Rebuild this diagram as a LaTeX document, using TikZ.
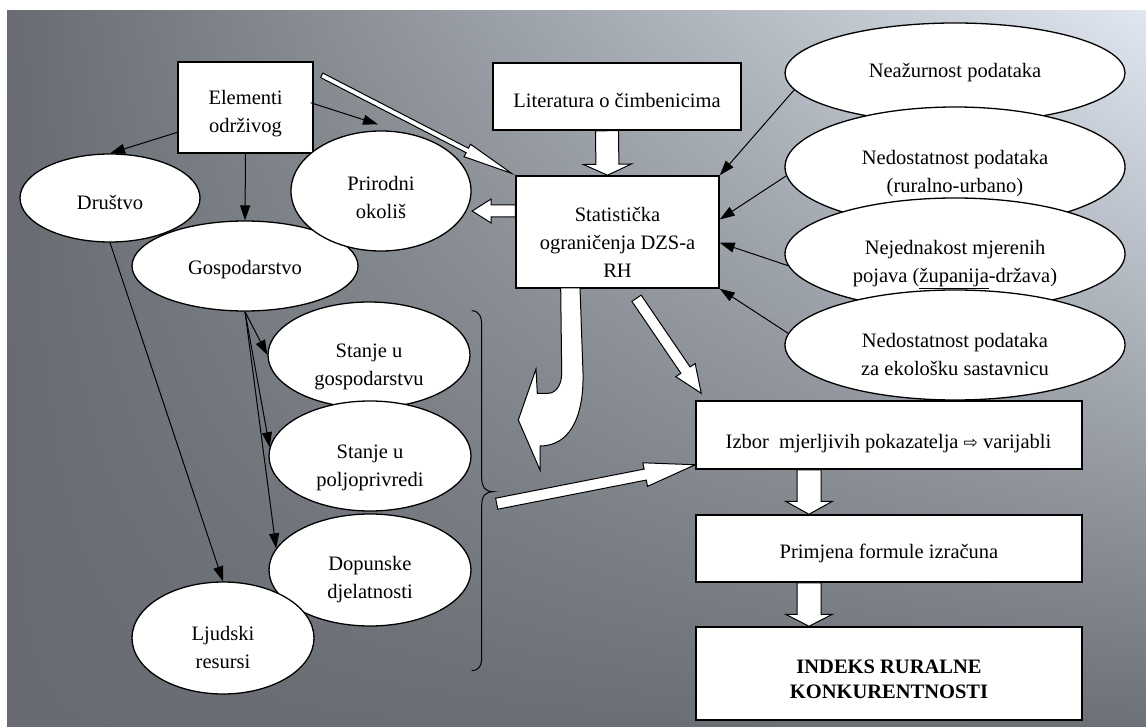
\documentclass[tikz,border=0pt]{standalone}
\usepackage{fontspec}
\setmainfont{Liberation Serif}
\newfontfamily\symfont{DejaVu Sans}
\usetikzlibrary{shapes.geometric,calc,arrows.meta,shadings}
\definecolor{bgdark}{RGB}{104,108,114}
\definecolor{bglight}{RGB}{224,231,240}
\definecolor{bgdarkr}{RGB}{108,112,119}
\newcommand\hollowarr[5]{%
  \coordinate (hA) at #1; \coordinate (hB) at #2;
  \coordinate (hC) at ($(hB)!#5!(hA)$);
  \draw[hollow] ($(hA)!#3!90:(hB)$) -- ($(hC)!#3!90:(hB)$) -- ($(hC)!#4!90:(hB)$) -- (hB)
    -- ($(hC)!#4!-90:(hB)$) -- ($(hC)!#3!-90:(hB)$) -- ($(hA)!#3!-90:(hB)$) -- cycle;}
\begin{document}
\begin{tikzpicture}[x=1pt,y=-1pt,
  box/.style={draw=black,line width=1.5pt,fill=white,inner sep=0pt},
  ell/.style={ellipse,draw=black,line width=1.3pt,fill=white,inner sep=0pt},
  txt/.style={align=center,inner sep=0pt,font=\fontsize{20.5}{28}\selectfont},
  conn/.style={draw=black,line width=1pt,-{Triangle[length=15pt,width=10pt]}},
  hollow/.style={draw=black,line width=1pt,fill=white,line join=miter}]
\useasboundingbox (0,0) rectangle (1146,727);
\fill[white] (0,0) rectangle (1146,727);
\shade[upper left=bgdark,upper right=bglight,lower left=bgdark,lower right=bgdarkr] (7,11) rectangle (1146,727);

% boxes
\node[box,minimum width=135pt,minimum height=91pt] (elem) at (245.5,107.5) {};
\node[box,minimum width=248pt,minimum height=67pt] (lit) at (617,96.5) {};
\node[box,minimum width=203pt,minimum height=112pt] (stat) at (617.5,232) {};
\node[box,minimum width=386pt,minimum height=68pt] (izbor) at (889,435) {};
\node[box,minimum width=386pt,minimum height=67pt] (prim) at (889,548.5) {};
\node[box,minimum width=386pt,minimum height=93pt] (ind) at (889,673.5) {};

% left ellipses
\node[ell,minimum width=180pt,minimum height=88pt] (drus) at (110,198) {};
\node[ell,minimum width=226pt,minimum height=90pt] (gosp) at (245,266) {};
\node[ell,minimum width=180pt,minimum height=120pt] (prir) at (381,191) {};
\node[ell,minimum width=202pt,minimum height=106pt] (sg) at (369,355) {};
\node[ell,minimum width=202pt,minimum height=110pt] (sp) at (370,456) {};
\node[ell,minimum width=202pt,minimum height=112pt] (dop) at (370,570) {};
\node[ell,minimum width=182pt,minimum height=112pt] (ljud) at (223,638) {};

% right ellipses
\node[ell,minimum width=340pt,minimum height=100pt] (E1) at (955,73) {};
\node[ell,minimum width=340pt,minimum height=120pt] (E2) at (955,167) {};
\node[ell,minimum width=340pt,minimum height=112pt] (E3) at (955,254) {};
\node[ell,minimum width=340pt,minimum height=110pt] (E4) at (955,345) {};

% texts
\node[txt] (elem-t) at (245.5,114) {Elementi\\održivog};
\node[txt] (lit-t) at (617,100) {Literatura o čimbenicima};
\node[txt] (stat-t) at (617.5,242) {Statistička\\ograničenja DZS-a\\RH};
\node[txt] (izbor-t) at (888.5,444) {Izbor~ mjerljivih pokazatelja {\symfont\fontsize{17}{17}\selectfont ⇨} varijabli};
\node[txt] (prim-t) at (889,553) {Primjena formule izračuna};
\node[txt,font=\fontsize{20.5}{25}\selectfont\bfseries] (ind-t) at (889,679) {INDEKS RURALNE\\KONKURENTNOSTI};
\node[txt] (drus-t) at (110,202) {Društvo};
\node[txt] (prir-t) at (381,197.5) {Prirodni\\okoliš};
\node[txt] (gosp-t) at (245,270) {Gospodarstvo};
\node[txt] (sg-t) at (369,366.5) {Stanje u\\gospodarstvu};
\node[txt] (sp-t) at (370,467.5) {Stanje u\\poljoprivredi};
\node[txt] (dop-t) at (370,580) {Dopunske\\djelatnosti};
\node[txt] (ljud-t) at (223,647.5) {Ljudski\\resursi};
\node[txt] (E1-t) at (955,73) {Neažurnost podataka};
\node[txt] (E2-t) at (955,174) {Nedostatnost podataka\\(ruralno-urbano)};
\node[txt] (E3-t) at (955,265) {Nejednakost mjerenih\\pojava (\underline{županija}-država)};
\node[txt] (E4-t) at (955,354) {Nedostatnost podataka\\za ekološku sastavnicu};

% brace
\coordinate (brtip) at (493,491.7);
\draw[line width=1pt] (471.7,310.7) .. controls (479,311) and (481.7,316) .. (481.7,326) -- (481.7,478)
  .. controls (481.7,487) and (485,491.5) .. (brtip)
  .. controls (485,492) and (481.7,496) .. (481.7,506) -- (481.7,657)
  .. controls (481.7,667) and (478,670.5) .. (471.7,670.7);

% curved hollow arrow
\draw[hollow] (560.7,288) -- (580,288) -- (583,373) .. controls (584,420) and (568,446) .. (540,446)
  -- (540,470) -- (518.3,420) -- (536,369) -- (537.3,393.3) -- (548.3,393.3)
  .. controls (556,393) and (561.7,385) .. (561.7,373) -- cycle;

% hollow arrows
\hollowarr{($(elem.28)!9pt!(stat.north west)$)}{($(stat.north west)!4pt!(elem.28)$)}{2.5pt}{7pt}{50pt}
\hollowarr{($(lit.south)+(-10,0)$)}{($(stat.north)+(-10,0)$)}{11.5pt}{24pt}{11pt}
\hollowarr{($(stat.west)+(0,-21)$)}{($(prir.east)+(0.5,20)$)}{6pt}{12pt}{19pt}
\hollowarr{($(stat.south)+(19,9.5)$)}{($(izbor.north west)+(6,-7)$)}{5.6pt}{11.7pt}{28pt}
\hollowarr{($(brtip)+(3.7,12)$)}{($(izbor.south west)+(0,-5)$)}{5.6pt}{12pt}{51pt}
\hollowarr{($(izbor.south)+(-80,0)$)}{($(prim.north)+(-80,0)$)}{12pt}{23.5pt}{13pt}
\hollowarr{($(prim.south)+(-80,0)$)}{($(ind.north)+(-80,0)$)}{12pt}{23.5pt}{12pt}

% black connectors
\draw[conn] (elem.200) -- (drus.north);
\draw[conn] (elem.south) -- (gosp.north);
\draw[conn] ($(elem.4)+(-3,0)$) -- ($(prir.north)+(-3,-6)$);
\draw[conn] (gosp.south) -- (sg.west);
\draw[conn] (gosp.south) -- (sp.175);
\draw[conn] (gosp.south) -- (dop.167);
\draw[conn] (drus.south) -- (ljud.north);
\draw[conn] (E1.186) -- (stat.north east);
\draw[conn] (E2.183) -- (stat.7);
\draw[conn] (E3.184) -- (stat.-6);
\draw[conn] (E4.176) -- (stat.south east);
\end{tikzpicture}
\end{document}
